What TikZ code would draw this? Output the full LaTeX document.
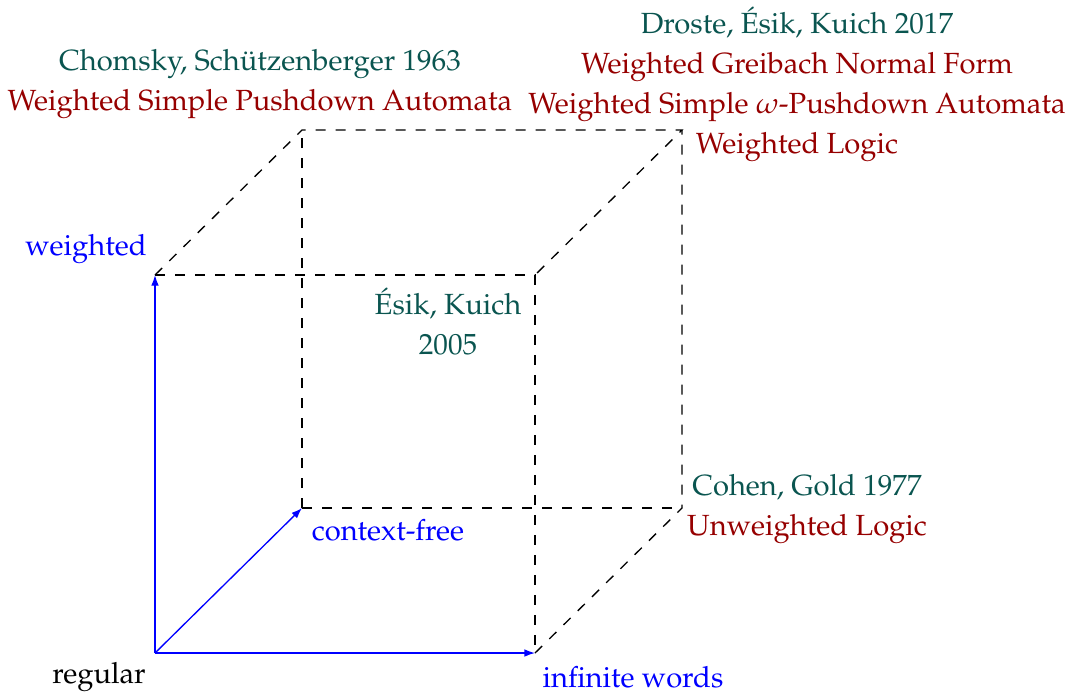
\documentclass[tikz,border=0pt]{standalone}
\usepackage[T1]{fontenc}
\usepackage{mathpazo}
\usetikzlibrary{arrows.meta}
\definecolor{authc}{RGB}{10,85,80}
\definecolor{resc}{RGB}{150,0,0}
\begin{document}
\begin{tikzpicture}[x=0.3pt,y=-0.3pt,
  axis/.style={blue,-{Latex[length=3.2pt,width=2.3pt]}},
  edge/.style={dashed,black},
  lbl/.style={inner sep=0pt,align=center,font=\fontsize{8.75}{12}\selectfont}]
\useasboundingbox (0,0) rectangle (1072,693);
\coordinate (O) at (155,653);
\coordinate (X) at (535,653);
\coordinate (Y) at (155,275);
\coordinate (Z) at (302,508);
\coordinate (XY) at (535,275);
\coordinate (XZ) at (682,508);
\coordinate (YZ) at (302,130);
\coordinate (XYZ) at (682,130);
\draw[edge] (Y) -- (XY) -- (X);
\draw[edge] (Y) -- (YZ) -- (XYZ) -- (XY);
\draw[edge] (X) -- (XZ) -- (XYZ);
\draw[edge] (Z) -- (YZ);
\draw[edge] (Z) -- (XZ);
\draw[axis] (O) -- (Y);
\draw[axis] (O) -- (X);
\draw[axis] (O) -- (Z);
\node[lbl] (reg) at (99,677) {regular};
\node[lbl,blue] (inf) at (633,677) {infinite words};
\node[lbl,blue] (cf) at (388,530) {context-free};
\node[lbl,blue] (wt) at (86,249) {weighted};
\node[lbl,authc] (ek) at (448,321) {\'Esik, Kuich\\2005};
\node[lbl] (cg) at (807,509) {\textcolor{authc}{Cohen, Gold 1977}\\\textcolor{resc}{Unweighted Logic}};
\node[lbl] (cs) at (260,84) {\textcolor{authc}{Chomsky, Sch\"utzenberger 1963}\\\textcolor{resc}{Weighted Simple Pushdown Automata}};
\node[lbl] (dek) at (797,84) {\textcolor{authc}{Droste, \'Esik, Kuich 2017}\\\textcolor{resc}{Weighted Greibach Normal Form}\\\textcolor{resc}{Weighted Simple $\omega$-Pushdown Automata}\\\textcolor{resc}{Weighted Logic}};
\end{tikzpicture}
\end{document}
